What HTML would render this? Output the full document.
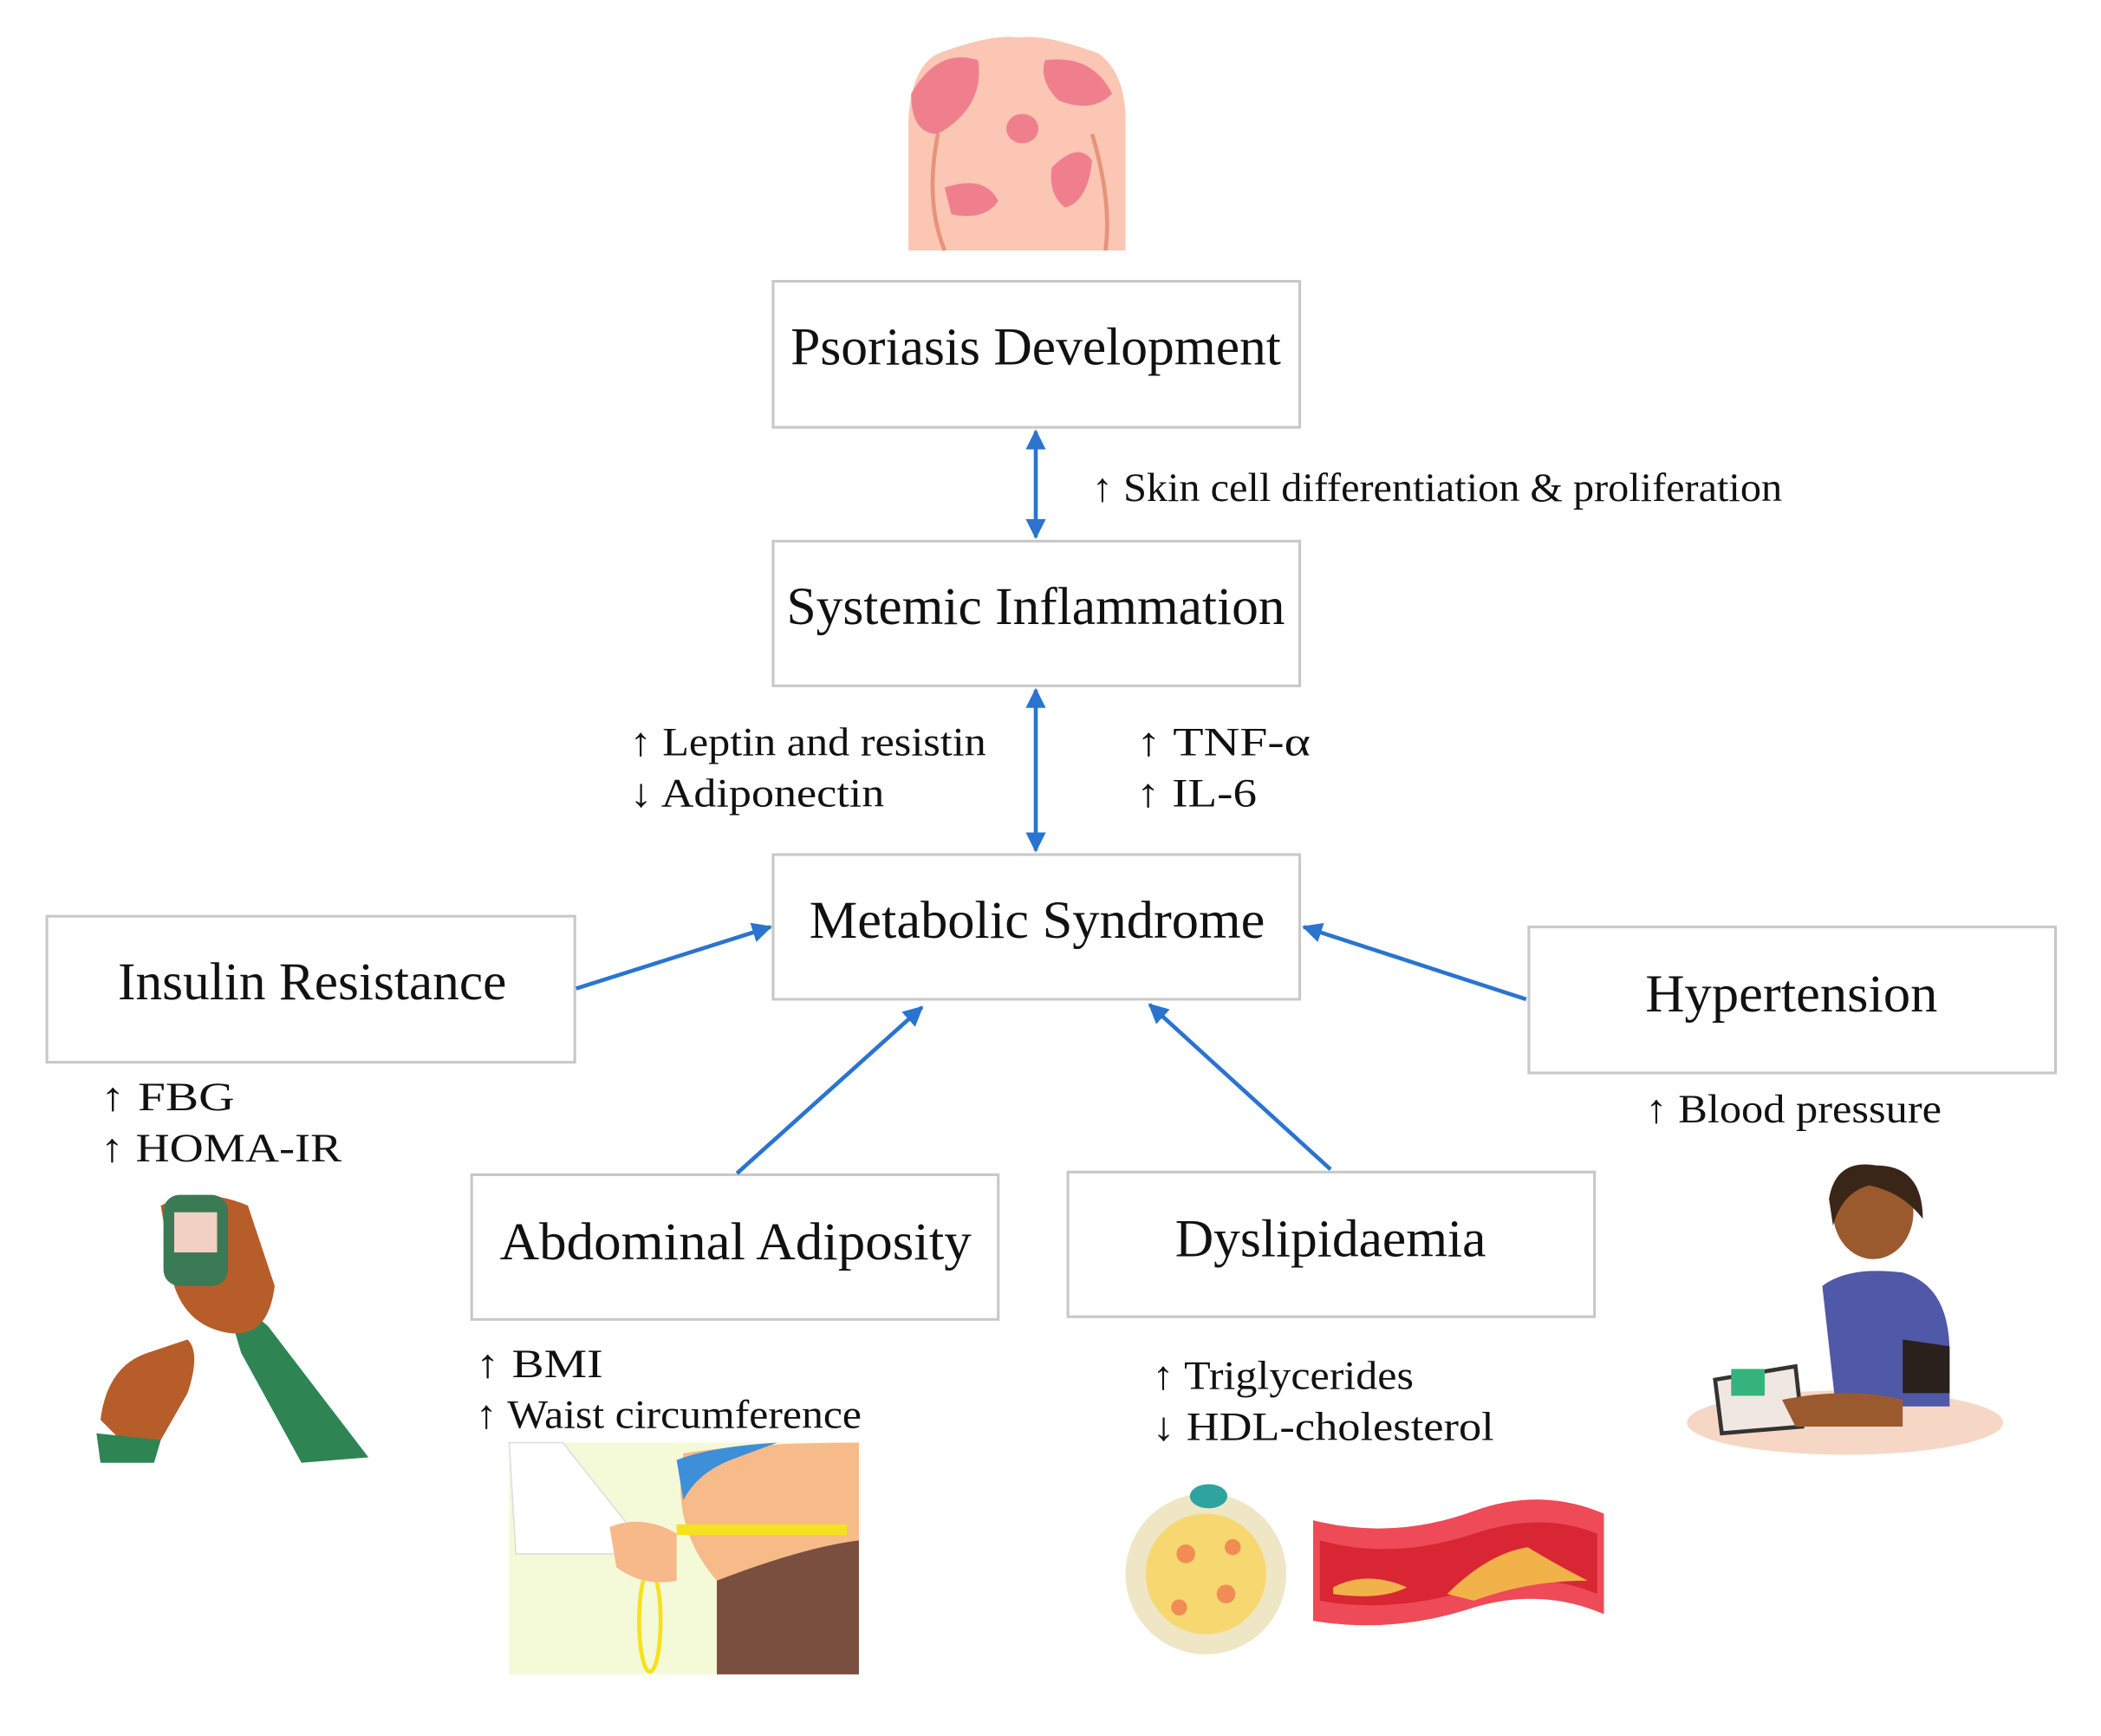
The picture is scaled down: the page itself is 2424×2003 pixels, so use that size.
<!DOCTYPE html>
<html><head><meta charset="utf-8"><style>
html,body{margin:0;padding:0;background:#fff}
svg{display:block}
text{font-family:"Liberation Serif",serif;fill:#111}
</style></head><body>
<svg width="2424" height="2003" viewBox="0 0 1568 1296" preserveAspectRatio="none" xmlns="http://www.w3.org/2000/svg">
<defs>
<marker id="a" viewBox="0 0 10 10" refX="9" refY="5" markerWidth="5" markerHeight="5" orient="auto-start-reverse"><path d="M0,0 L10,5 L0,10 z" fill="#2a74d0"/></marker>
</defs>
<g>
<path d="M700,40 Q740,25 760,28 Q780,25 820,40 Q840,55 840,90 L840,187 L678,187 L678,90 Q680,50 700,40z" fill="#fbc6b4"/>
<path d="M680,70 Q700,35 730,45 Q735,80 700,100 Q680,100 680,70z" fill="#f07f8e"/>
<path d="M780,45 Q815,40 830,70 Q815,85 790,75 Q775,60 780,45z" fill="#f07f8e"/>
<ellipse cx="763" cy="96" rx="12" ry="11" fill="#f07f8e"/>
<path d="M785,125 Q805,105 815,120 Q812,150 795,155 Q782,145 785,125z" fill="#f07f8e"/>
<path d="M705,140 Q735,130 745,150 Q735,165 710,160z" fill="#f07f8e"/>
<path d="M700,100 Q690,150 705,187 M815,100 Q830,150 825,187" stroke="#e6947a" stroke-width="3" fill="none"/>
</g>
<g fill="#fff" stroke="#c8c8c8" stroke-width="2">
<rect x="577" y="210" width="393" height="109"/>
<rect x="577" y="404" width="393" height="108"/>
<rect x="577" y="638" width="393" height="108"/>
<rect x="35" y="684" width="394" height="109"/>
<rect x="1141" y="692" width="393" height="109"/>
<rect x="352" y="877" width="393" height="108"/>
<rect x="797" y="875" width="393" height="108"/>
</g>
<g font-size="40" text-anchor="middle">
<text x="773" y="272" textLength="366" lengthAdjust="spacingAndGlyphs">Psoriasis Development</text>
<text x="773" y="466" textLength="372" lengthAdjust="spacingAndGlyphs">Systemic Inflammation</text>
<text x="774" y="700" textLength="340" lengthAdjust="spacingAndGlyphs">Metabolic Syndrome</text>
<text x="233" y="746" textLength="290" lengthAdjust="spacingAndGlyphs">Insulin Resistance</text>
<text x="1337" y="755" textLength="218" lengthAdjust="spacingAndGlyphs">Hypertension</text>
<text x="549" y="940" textLength="352" lengthAdjust="spacingAndGlyphs">Abdominal Adiposity</text>
<text x="993" y="938" textLength="232" lengthAdjust="spacingAndGlyphs">Dyslipidaemia</text>
</g>
<g stroke="#2a74d0" stroke-width="3" fill="none">
<line x1="773" y1="322" x2="773" y2="401" marker-start="url(#a)" marker-end="url(#a)"/>
<line x1="773" y1="515" x2="773" y2="635" marker-start="url(#a)" marker-end="url(#a)"/>
<line x1="430" y1="738" x2="575" y2="692" marker-end="url(#a)"/>
<line x1="1139" y1="746" x2="973" y2="692" marker-end="url(#a)"/>
<line x1="550" y1="876" x2="688" y2="752" marker-end="url(#a)"/>
<line x1="993" y1="873" x2="858" y2="750" marker-end="url(#a)"/>
</g>
<g font-size="30">
<text x="815" y="374" textLength="515" lengthAdjust="spacingAndGlyphs">↑ Skin cell differentiation &amp; proliferation</text>
<text x="470" y="564" textLength="266" lengthAdjust="spacingAndGlyphs">↑ Leptin and resistin</text>
<text x="470" y="602" textLength="190" lengthAdjust="spacingAndGlyphs">↓ Adiponectin</text>
<text x="848" y="564" textLength="130" lengthAdjust="spacingAndGlyphs">↑ TNF-α</text>
<text x="848" y="602" textLength="90" lengthAdjust="spacingAndGlyphs">↑ IL-6</text>
<text x="75" y="829" textLength="100" lengthAdjust="spacingAndGlyphs">↑ FBG</text>
<text x="75" y="867" textLength="180" lengthAdjust="spacingAndGlyphs">↑ HOMA-IR</text>
<text x="1228" y="838" textLength="221" lengthAdjust="spacingAndGlyphs">↑ Blood pressure</text>
<text x="355" y="1028" textLength="95" lengthAdjust="spacingAndGlyphs">↑ BMI</text>
<text x="355" y="1066" textLength="288" lengthAdjust="spacingAndGlyphs">↑ Waist circumference</text>
<text x="860" y="1037" textLength="195" lengthAdjust="spacingAndGlyphs">↑ Triglycerides</text>
<text x="860" y="1075" textLength="255" lengthAdjust="spacingAndGlyphs">↓ HDL-cholesterol</text>
</g>
<g>
<path d="M165,960 L200,990 L275,1088 L225,1092 L180,1010z" fill="#2f8453"/>
<path d="M120,900 Q150,885 185,900 L205,960 Q200,1000 170,995 Q140,990 130,960z" fill="#b65d2a"/>
<rect x="122" y="892" width="48" height="68" rx="12" fill="#3a7a55"/>
<rect x="130" y="905" width="32" height="30" fill="#f2d0c4"/>
<path d="M75,1060 Q80,1020 110,1010 L140,1000 Q150,1010 140,1040 L120,1075 L95,1080z" fill="#b65d2a"/>
<path d="M72,1070 L120,1075 L115,1092 L75,1092z" fill="#2f8453"/>
</g>
<g>
<rect x="380" y="1077" width="261" height="173" fill="#f4f9d8"/>
<path d="M510,1085 Q560,1077 641,1077 L641,1250 L535,1250 L535,1180 Q500,1140 510,1085z" fill="#f7bb8a"/>
<path d="M535,1180 Q600,1155 641,1150 L641,1250 L535,1250z" fill="#7a4f3f"/>
<path d="M505,1090 Q530,1080 580,1077 L545,1090 Q520,1100 510,1120z" fill="#3d8fd8"/>
<rect x="505" y="1138" width="127" height="8" fill="#f5e21c"/>
<path d="M380,1077 L420,1077 L470,1140 L470,1160 L385,1160z" fill="#fff" stroke="#ddd"/>
<ellipse cx="485" cy="1210" rx="8" ry="38" fill="none" stroke="#f5e21c" stroke-width="3"/>
<path d="M455,1140 Q480,1130 505,1145 L505,1180 Q480,1185 460,1170z" fill="#f7b98a"/>
</g>
<g>
<circle cx="900" cy="1175" r="60" fill="#efe6c6"/>
<circle cx="900" cy="1175" r="45" fill="#fbd24c" opacity="0.7"/>
<circle cx="885" cy="1160" r="7" fill="#f28c55"/><circle cx="915" cy="1190" r="7" fill="#f28c55"/><circle cx="880" cy="1200" r="6" fill="#f28c55"/><circle cx="920" cy="1155" r="6" fill="#f28c55"/>
<ellipse cx="902" cy="1117" rx="14" ry="9" fill="#2fa3a0"/>
</g>
<g>
<path d="M980,1135 Q1040,1150 1100,1128 Q1150,1110 1197,1130 L1197,1205 Q1150,1185 1100,1200 Q1040,1220 980,1210z" fill="#ee4a57"/>
<path d="M985,1150 Q1040,1165 1100,1145 Q1150,1128 1192,1145 L1192,1190 Q1150,1172 1100,1186 Q1040,1205 985,1195z" fill="#d92634"/>
<path d="M1080,1190 Q1110,1160 1140,1155 Q1165,1170 1185,1180 Q1140,1180 1100,1195z" fill="#f2b24a"/>
<path d="M995,1185 Q1020,1172 1050,1185 Q1030,1195 995,1190z" fill="#f2b24a"/>
</g>
<g>
<ellipse cx="1377" cy="1062" rx="118" ry="24" fill="#f6d7c6"/>
<path d="M1360,960 Q1380,945 1420,950 Q1455,960 1455,1010 L1455,1050 L1370,1050z" fill="#5058a8"/>
<path d="M1420,1000 L1455,1005 L1455,1040 L1420,1040z" fill="#2b211c"/>
<ellipse cx="1398" cy="905" rx="30" ry="35" fill="#9b5a2e"/>
<path d="M1365,895 Q1370,865 1400,870 Q1435,870 1435,910 Q1420,890 1395,885 Q1375,890 1368,915z" fill="#3a2618"/>
<path d="M1280,1030 L1340,1020 L1345,1065 L1285,1070z" fill="#f0e7e2" stroke="#333" stroke-width="3"/>
<rect x="1292" y="1022" width="25" height="20" fill="#35b37c"/>
<path d="M1330,1045 Q1380,1035 1420,1045 L1420,1065 L1340,1065z" fill="#9b5a2e"/>
</g>
</svg>
</body></html>
